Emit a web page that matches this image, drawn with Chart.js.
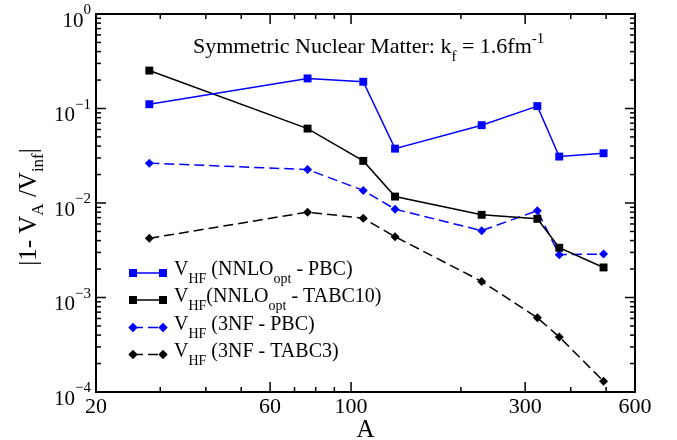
<!DOCTYPE html>
<html><head><meta charset="utf-8">
<script src="https://cdn.jsdelivr.net/npm/chart.js@4/dist/chart.umd.min.js"></script>
<style>html,body{margin:0;padding:0;background:#fff;}canvas{display:block;}</style>
</head><body>
<canvas id="c" width="677" height="440"></canvas>
<script>
// ---- data ----
const massNumbers = [28, 76, 108, 132, 228, 324, 372, 492];
const nnloPBC     = [0.111, 0.208, 0.192, 0.0376, 0.0666, 0.106, 0.031, 0.0336];
const nnloTABC10  = [0.252, 0.0613, 0.0279, 0.0117, 0.0075, 0.0068, 0.00336, 0.00208];
const nf3PBC      = [0.0264, 0.0226, 0.0136, 0.0086, 0.0051, 0.0083, 0.00284, 0.00288];
const nf3TABC3    = [0.00423, 0.0080, 0.0069, 0.0044, 0.00148, 0.00061, 0.000383, 0.00013];
const xMajorTicks = [20, 60, 100, 300, 600];
const xMinorTicks = [30, 40, 50, 70, 80, 90, 200, 400, 500];
const yDecades    = [0, -1, -2, -3, -4];
const legendLabels = [
  [['V','n'],['HF','sub'],[' (NNLO','n'],['opt','sub'],[' - PBC)','n']],
  [['V','n'],['HF','sub'],['(NNLO','n'],['opt','sub'],[' - TABC10)','n']],
  [['V','n'],['HF','sub'],[' (3NF - PBC)','n']],
  [['V','n'],['HF','sub'],[' (3NF - TABC3)','n']]
];
const titleParts = [['Symmetric Nuclear Matter: k','n'],['f','sub'],[' = 1.6fm','n'],['-1','sup']];
const yTitleParts = [['|1- V','n'],['A','sub'],[' /V','n'],['inf','sub'],['|','n']];

const SERIF = '"Liberation Serif", "Times New Roman", serif';
const BLUE = '#0000ff';

function pts(vals){ return massNumbers.map((a,i)=>({x:a, y:vals[i]})); }

function drawRich(ctx, x, y, parts, size, subSize, align, subOff, supOff){
  let w = 0;
  for (const [t,k] of parts){ ctx.font = (k==='n'?size:subSize)+'px '+SERIF; w += ctx.measureText(t).width; }
  let cx = align==='center' ? x - w/2 : (align==='right' ? x - w : x);
  ctx.textAlign = 'left'; ctx.textBaseline = 'alphabetic';
  for (const [t,k] of parts){
    ctx.font = (k==='n'?size:subSize)+'px '+SERIF;
    const dy = k==='sub' ? subOff : (k==='sup' ? -supOff : 0);
    ctx.fillText(t, cx, y + dy);
    cx += ctx.measureText(t).width;
  }
}

const datasets = [
  {data: pts(nnloPBC), borderColor: BLUE, backgroundColor: BLUE, pointStyle:'rect', pointRadius:5.6, borderWidth:1.5, borderDash:[]},
  {data: pts(nnloTABC10), borderColor:'#000', backgroundColor:'#000', pointStyle:'rect', pointRadius:5.6, borderWidth:1.5, borderDash:[]},
  {data: pts(nf3PBC), borderColor: BLUE, backgroundColor: BLUE, pointStyle:'rectRot', pointRadius:4.5, borderWidth:1.5, borderDash:[10,5]},
  {data: pts(nf3TABC3), borderColor:'#000', backgroundColor:'#000', pointStyle:'rectRot', pointRadius:4.5, borderWidth:1.5, borderDash:[10,5]}
];
datasets.forEach(d=>{ d.pointBorderWidth = 0; d.tension = 0; d.fill = false; });

const decor = {
  id: 'decor',
  afterDraw(chart){
    const ctx = chart.ctx;
    const {left, right, top, bottom} = chart.chartArea;
    const xs = chart.scales.x, ys = chart.scales.y;
    ctx.save();
    ctx.fillStyle = '#000'; ctx.strokeStyle = '#000';
    // frame
    ctx.lineWidth = 2;
    ctx.strokeRect(left, top, right-left, bottom-top);
    // ticks
    ctx.lineWidth = 1.5;
    const seg = (x1,y1,x2,y2)=>{ ctx.beginPath(); ctx.moveTo(x1,y1); ctx.lineTo(x2,y2); ctx.stroke(); };
    const MAJ = 10, MIN = 5;
    xMajorTicks.forEach(v=>{ const p = xs.getPixelForValue(v); seg(p,bottom,p,bottom-MAJ); seg(p,top,p,top+MAJ); });
    xMinorTicks.forEach(v=>{ const p = xs.getPixelForValue(v); seg(p,bottom,p,bottom-MIN); seg(p,top,p,top+MIN); });
    yDecades.forEach(d=>{
      const p = ys.getPixelForValue(Math.pow(10,d)); seg(left,p,left+MAJ,p); seg(right,p,right-MAJ,p);
      if (d < 0) for (let m=2; m<=9; m++){
        const q = ys.getPixelForValue(m*Math.pow(10,d)); seg(left,q,left+MIN,q); seg(right,q,right-MIN,q);
      }
    });
    // x tick labels
    ctx.font = '22px '+SERIF; ctx.textAlign = 'center'; ctx.textBaseline = 'alphabetic';
    xMajorTicks.forEach(v=>{ ctx.fillText(String(v), xs.getPixelForValue(v), 413); });
    // y tick labels
    yDecades.forEach(d=>{
      const p = ys.getPixelForValue(Math.pow(10,d));
      const sup = d===0 ? '0' : '\u2212'+(-d);
      ctx.font = '15px '+SERIF; ctx.textAlign='right';
      const sw = ctx.measureText(sup).width;
      ctx.fillText(sup, 91, p + 0);
      ctx.font = '21px '+SERIF;
      ctx.fillText('10', 91 - sw, p + 12.5);
    });
    ctx.textAlign='left';
    // title
    drawRich(ctx, 193, 53, titleParts, 22, 15, 'left', 8, 10);
    // axis titles
    ctx.font = '25px '+SERIF; ctx.textAlign='center';
    ctx.fillText('A', (left+right)/2, 437);
    ctx.save();
    ctx.translate(36, 207); ctx.rotate(-Math.PI/2);
    drawRich(ctx, 0, 0, yTitleParts, 25, 17, 'center', 7, 10);
    ctx.restore();
    // legend
    const rows = [273, 300, 327.5, 354.5];
    chart.data.datasets.forEach((ds, i)=>{
      const y = rows[i];
      ctx.save();
      ctx.strokeStyle = ds.borderColor; ctx.fillStyle = ds.backgroundColor; ctx.lineWidth = 1.5;
      ctx.setLineDash(ds.borderDash);
      seg(133, y, 163, y);
      ctx.setLineDash([]);
      [133, 163].forEach(x=>{ Chart.helpers.drawPoint(ctx, {pointStyle: ds.pointStyle, radius: ds.pointRadius, rotation:0, borderWidth:0}, x, y); ctx.fill(); });
      ctx.restore();
      ctx.fillStyle = '#000';
      drawRich(ctx, 174, y + 2, legendLabels[i], 20, 14, 'left', 8, 9);
    });
    ctx.restore();
  }
};

new Chart(document.getElementById('c'), {
  type: 'line',
  data: { datasets },
  options: {
    responsive: false, animation: false,
    layout: { padding: { left: 96, right: 42, top: 14, bottom: 48 } },
    plugins: { legend: { display: false }, tooltip: { enabled: false } },
    scales: {
      x: { type: 'logarithmic', min: 20, max: 600, display: false },
      y: { type: 'logarithmic', min: 1e-4, max: 1, display: false }
    }
  },
  plugins: [decor]
});
</script>
</body></html>
